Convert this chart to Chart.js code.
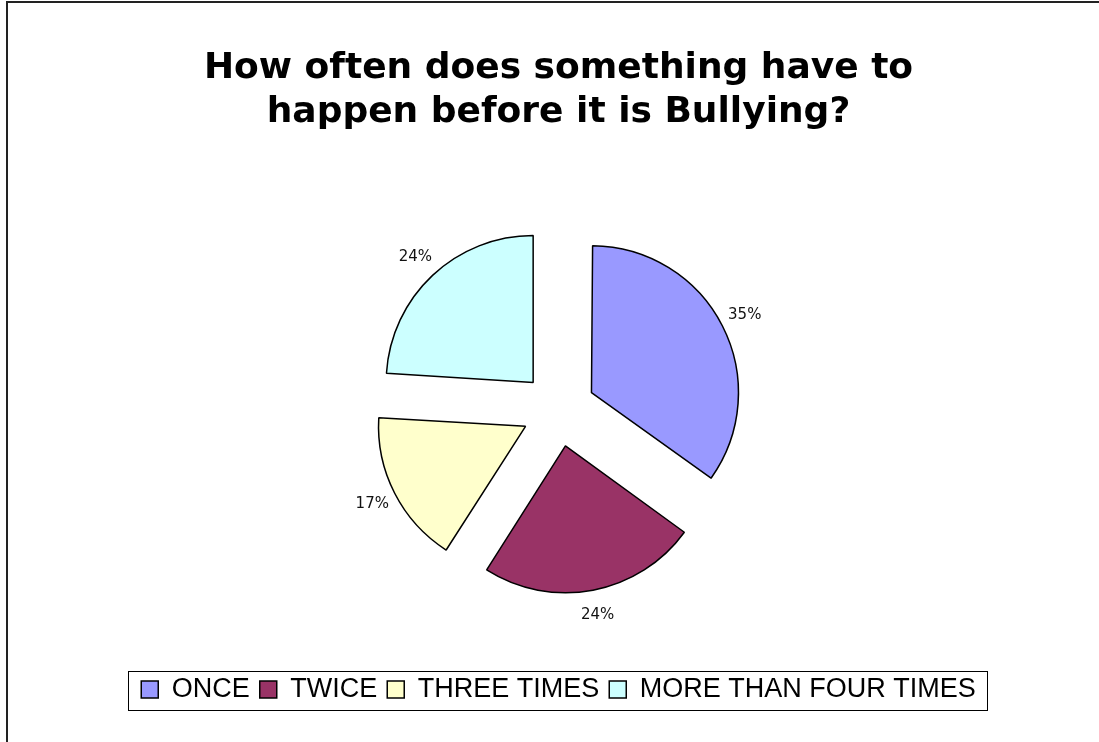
<!DOCTYPE html>
<html>
<head>
<meta charset="utf-8">
<script src="https://cdn.jsdelivr.net/npm/chart.js@4/dist/chart.umd.min.js"></script>
<style>
  html, body { margin: 0; padding: 0; background: #fff; overflow: hidden; width: 1099px; height: 742px; }
  #frame { position: absolute; left: 6px; top: 1px; width: 1101px; height: 760px; border: 2px solid #222; }
</style>
</head>
<body>
<div id="frame"><canvas id="grafico" width="1101" height="760"></canvas></div>
<script>
// dados do gráfico
const categorias = ["ONCE", "TWICE", "THREE TIMES", "MORE THAN FOUR TIMES"];
const valores = [35, 24, 17, 24];
const cores = ["#9999FF", "#993366", "#FFFFCC", "#CCFFFF"];
const titulo = ["How often does something have to", "happen before it is Bullying?"];

const RAIO = 147;

// o Chart.js aumenta o raio das fatias deslocadas; volta todas ao mesmo raio
const raioIgual = {
    id: "raioIgual",
    beforeDatasetsDraw(chart) {
        chart.getDatasetMeta(0).data.forEach(arc => {
            const circ = arc.endAngle - arc.startAngle;
            const fix = 1 - Math.sin(Math.min(Math.PI, circ));
            arc.outerRadius = RAIO - (arc.options.offset / 4) * fix;
        });
    }
};

// rótulos de porcentagem fora das fatias
const rotulosPct = {
    id: "rotulosPct",
    afterDatasetsDraw(chart) {
        const ctx = chart.ctx;
        const meta = chart.getDatasetMeta(0);
        const total = valores.reduce((a, b) => a + b, 0);
        ctx.save();
        ctx.font = '15px "DejaVu Sans"';
        ctx.fillStyle = "#111";
        ctx.textAlign = "center";
        ctx.textBaseline = "middle";
        meta.data.forEach((arc, i) => {
            const p = arc.getProps(["x", "y", "startAngle", "endAngle"], true);
            const meio = (p.startAngle + p.endAngle) / 2;
            // o Chart.js desloca a fatia em offset/4
            const d = arc.options.offset / 4 + RAIO + 25;
            ctx.fillText(Math.round(valores[i] / total * 100) + "%", p.x + Math.cos(meio) * d, p.y + Math.sin(meio) * d);
        });
        ctx.restore();
    }
};

// moldura da legenda
const molduraLegenda = {
    id: "molduraLegenda",
    afterDraw(chart) {
        const hb = chart.legend.legendHitBoxes;
        if (!hb || !hb.length) return;
        const ult = hb[hb.length - 1];
        const esq = hb[0].left - 13;
        const dir = ult.left + ult.width + 11;
        const cy = hb[0].top + hb[0].height / 2;
        const ctx = chart.ctx;
        ctx.save();
        ctx.strokeStyle = "#000";
        ctx.lineWidth = 1;
        ctx.strokeRect(Math.round(esq) + 0.5, Math.round(cy - 18.5) + 0.5, Math.round(dir - esq), 39);
        ctx.restore();
    }
};

new Chart(document.getElementById("grafico"), {
    type: "pie",
    data: {
        labels: categorias,
        datasets: [{
            data: valores,
            backgroundColor: cores,
            borderColor: "#000",
            borderWidth: 1.5,
            offset: 148
        }]
    },
    options: {
        responsive: false,
        animation: false,
        radius: RAIO,
        layout: { padding: { top: 0, bottom: 50, left: 0, right: 0 } },
        plugins: {
            title: {
                display: true,
                text: titulo,
                color: "#000",
                font: { family: "DejaVu Sans", size: 36, weight: "bold", lineHeight: 44 / 36 },
                padding: { top: 43.5, bottom: 18.5 }
            },
            legend: {
                position: "bottom",
                labels: {
                    color: "#000",
                    boxWidth: 17,
                    boxHeight: 17,
                    padding: 10,
                    font: { family: "Liberation Sans", size: 27 }
                }
            },
            tooltip: { enabled: false }
        }
    },
    plugins: [raioIgual, rotulosPct, molduraLegenda]
});
</script>
</body>
</html>
